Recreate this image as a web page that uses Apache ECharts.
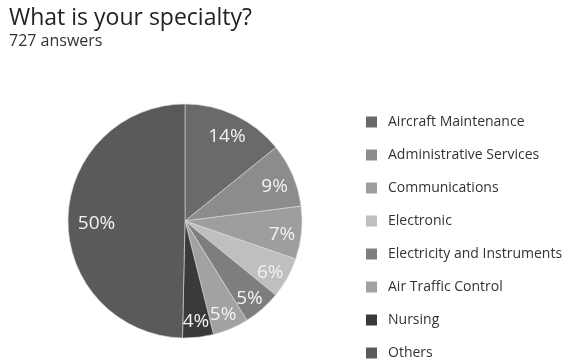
<!DOCTYPE html>
<html>
<head>
<meta charset="utf-8">
<script src="https://cdn.jsdelivr.net/npm/echarts@6/dist/echarts.min.js"></script>
<style>
  html, body { margin: 0; padding: 0; background: #fff; }
  #chart { width: 567px; height: 360px; }
</style>
</head>
<body>
<div id="chart"></div>
<script>
// Survey responses by specialty (727 answers in total)
const categories = [
  'Aircraft Maintenance',
  'Administrative Services',
  'Communications',
  'Electronic',
  'Electricity and Instruments',
  'Air Traffic Control',
  'Nursing',
  'Others'
];
const answers = [103, 64, 53, 41, 38, 36, 31, 361];
const sliceColors = ['#6a6a6a', '#8c8c8c', '#9e9e9e', '#bfbfbf', '#7e7e7e', '#a2a2a2', '#3a3a3a', '#5a5a5a'];

const total = answers.reduce((a, b) => a + b, 0);
const pieData = categories.map((name, i) => ({
  name,
  value: answers[i],
  itemStyle: { color: sliceColors[i] }
}));

const chart = echarts.init(document.getElementById('chart'), null, { renderer: 'canvas' });
const font = '"Open Sans", "Noto Sans", sans-serif';

chart.setOption({
  animation: false,
  title: {
    text: 'What is your specialty?',
    subtext: total + ' answers',
    left: 4,
    top: 2,
    itemGap: 3,
    textStyle: { fontFamily: font, fontSize: 23, fontWeight: 'normal', color: '#222' },
    subtextStyle: { fontFamily: font, fontSize: 16, color: '#333' }
  },
  legend: {
    orient: 'vertical',
    left: 366,
    top: 113,
    height: 300,
    padding: 0,
    itemWidth: 11,
    itemHeight: 11,
    itemGap: 15,
    icon: 'rect',
    itemStyle: { borderWidth: 0 },
    textStyle: { fontFamily: font, fontSize: 14, lineHeight: 18, color: '#333', padding: [0, 0, 0, 6] },
    data: categories
  },
  series: [
    {
      // filled slices
      type: 'pie',
      center: [185, 221],
      radius: [0, 117],
      startAngle: 90,
      clockwise: true,
      silent: true,
      label: { show: false },
      labelLine: { show: false },
      itemStyle: { borderColor: '#d8d8d8', borderWidth: 0.6 },
      data: pieData
    },
    {
      // percentage labels placed toward the rim
      type: 'pie',
      center: [185, 225],
      radius: [72, 117],
      startAngle: 90,
      clockwise: true,
      silent: true,
      legendHoverLink: false,
      avoidLabelOverlap: false,
      labelLayout: { hideOverlap: false },
      itemStyle: { color: 'rgba(0,0,0,0)' },
      label: {
        show: true,
        position: 'inside',
        fontFamily: font,
        fontSize: 19,
        color: '#f2f2f2',
        formatter: p => Math.round(p.value / total * 100) + '%'
      },
      labelLine: { show: false },
      data: categories.map((name, i) => ({
        name,
        value: answers[i],
        itemStyle: { color: 'rgba(0,0,0,0)' },
        // the large slice's label sits a little closer to the centre
        label: i === categories.length - 1 ? { offset: [9, 0] } : undefined
      }))
    }
  ]
});
</script>
</body>
</html>
